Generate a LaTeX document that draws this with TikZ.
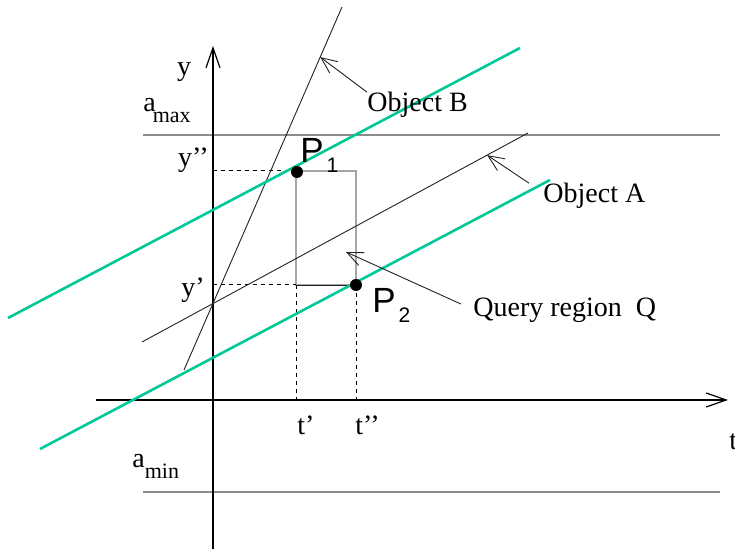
\documentclass[tikz,border=0pt]{standalone}
\usepackage{fontspec}
\setmainfont{Liberation Serif}
\setsansfont{Liberation Sans}
\usepackage{xcolor}
\usepackage{tikz}
\usetikzlibrary{
  arrows.meta,
  positioning,
  calc
}
\definecolor{qrBound}{HTML}{8C8C8C}
\definecolor{qrBox}{HTML}{A6A6A6}
\definecolor{qrHull}{HTML}{00C896}
\definecolor{qrInk}{HTML}{222222}
\newcommand{\lowsub}[1]{\raisebox{-5.5pt}{\fontsize{11}{11}\selectfont #1}}
\newcommand{\psub}[1]{\hspace{1.5pt}\raisebox{-5pt}{\fontsize{10.5}{10.5}\selectfont #1}}
\tikzset{
  axisline/.style={-{Straight Barb[length=10pt, width=7pt]}, line width=0.6pt, black},
  objline/.style={line width=0.45pt, qrInk},
  boundline/.style={line width=1.4pt, qrBound},
  guide/.style={line width=0.5pt, black, dash pattern=on 2pt off 2pt},
  qbox/.style={line width=1pt, qrBox},
  hull/.style={line width=1.3pt, qrHull},
  pointer/.style={-{Straight Barb[length=8pt, width=7pt]}, line width=0.45pt, qrInk},
  lbl/.style={font=\fontsize{14}{16}\selectfont, inner sep=0pt},
  plbl/.style={font=\sffamily\fontsize{17.5}{20}\selectfont, inner sep=0pt},
  pdot/.style={circle, fill=black, inner sep=0pt, minimum size=6pt}
}

\begin{document}
\begin{tikzpicture}[x=0.5pt, y=0.5pt]
  \useasboundingbox (0,0) rectangle (735,549);
  \coordinate (o) at (213,149);
  \coordinate (ybot) at (213,0);
  \coordinate (ytop) at (213,503);
  \coordinate (tleft) at (96,149);
  \coordinate (tright) at (728,149);
  \coordinate (amaxL) at (143,414);
  \coordinate (amaxR) at (720,414);
  \coordinate (aminL) at (143,57);
  \coordinate (aminR) at (720,57);
  \coordinate (bBot) at (184,179);
  \coordinate (bTop) at (342,542);
  \coordinate (aBot) at (142,207);
  \coordinate (aTop) at (528,416);
  \coordinate (h1a) at (8,231);
  \coordinate (h1b) at (520,501);
  \coordinate (h2a) at (40,100);
  \coordinate (h2b) at (550,369);
  \coordinate (q1) at (296,264);
  \coordinate (q2) at (356,378);
  \path (bBot) -- (bTop) coordinate[pos=0.862] (tipB);
  \path (aBot) -- (aTop) coordinate[pos=0.894] (tipA);
  \coordinate (tipQ) at (346,297);

  \draw[boundline] (amaxL) -- (amaxR);
  \draw[boundline] (aminL) -- (aminR);
  \draw[axisline] (ybot) -- (ytop);
  \draw[axisline] (tleft) -- (tright);

  \draw[qbox] (q1) rectangle (q2);
  \draw[objline] (q1) -- (q1 -| q2);
  \draw[guide] (o |- q2) -- (q1 |- q2);
  \draw[guide] (o |- q1) -- (q1);
  \draw[guide] (q1) -- (q1 |- o);
  \draw[guide] (q1 -| q2) -- (q2 |- o);

  \draw[objline] (bBot) -- (bTop);
  \draw[objline] (aBot) -- (aTop);
  \draw[hull] (h1a) -- (h1b);
  \draw[hull] (h2a) -- (h2b);

  \node[pdot] (p1) at (297,377) {};
  \node[pdot] (p2) at (q1 -| q2) {};

  \node[lbl, anchor=base] (ylbl) at (184,473) {y};
  \node[lbl, anchor=base west] (tlbl) at (729,99) {t};
  \node[lbl, anchor=base west] (amax) at (143,437) {a\hspace{-1.5pt}\lowsub{max}};
  \node[lbl, anchor=base west] (amin) at (132,81) {a\lowsub{min}};
  \node[lbl, anchor=base east] (ysec) at (209,382) {y’’};
  \node[lbl, anchor=base east] (yfirst) at (205,252) {y’};
  \node[lbl, anchor=base west] (tfirst) at (297,114) {t’};
  \node[lbl, anchor=base west] (tsec) at (355,114) {t’’};
  \node[lbl, anchor=base west] (objB) at (367,437) {Object B};
  \node[lbl, anchor=base west] (objA) at (543,346) {Object A};
  \node[lbl, anchor=base west] (objQ) at (473,232) {Query region\ \ Q};
  \node[plbl, anchor=base west] (p1lbl) at (300,386) {P\psub{1}};
  \node[plbl, anchor=base west] (p2lbl) at (372,236) {P\psub{2}};

  \draw[pointer] (objB.north west) -- (tipB);
  \draw[pointer] ([xshift=-7pt]objA.north west) -- (tipA);
  \draw[pointer] ([xshift=-6pt, yshift=-3pt]objQ.north west) -- (tipQ);
\end{tikzpicture}
\end{document}
